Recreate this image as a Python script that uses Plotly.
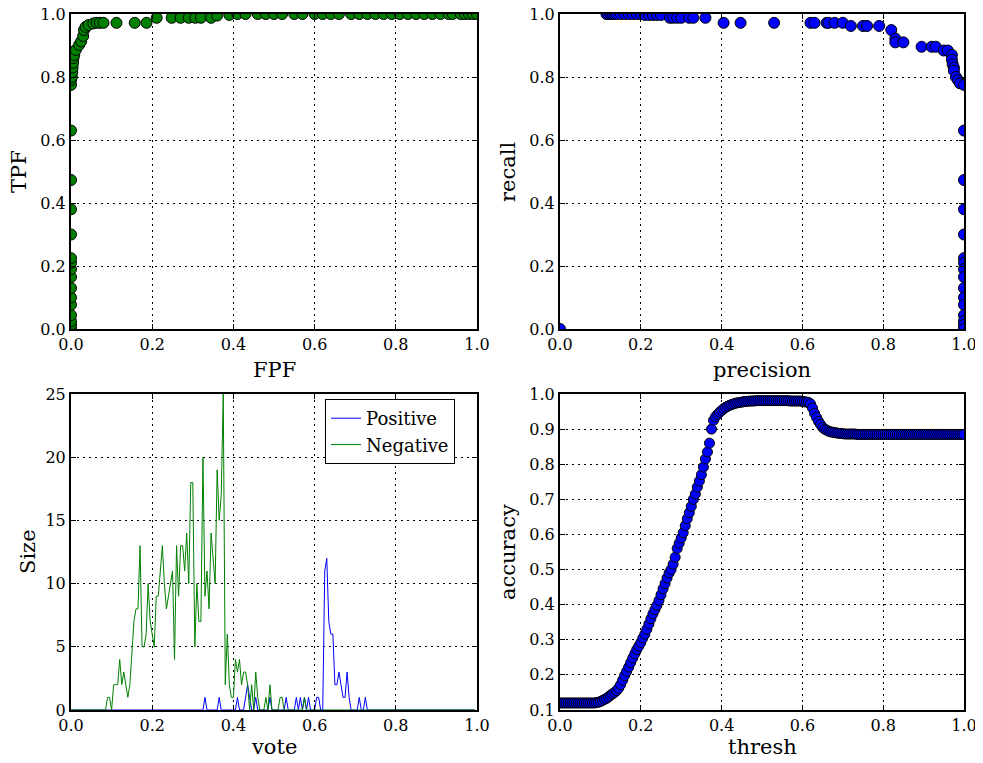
import plotly.graph_objects as go

# ---------------- data ----------------
# ROC curve (top-left)
fpf = [0, 0, 0, 0, 0, 0, 0, 0, 0, 0, 0, 0, 0, 0, 0, 0, 0,
       0.002, 0.003, 0.004, 0.005, 0.006, 0.008, 0.012, 0.02, 0.025, 0.03, 0.032,
       0.036, 0.043, 0.055, 0.063, 0.071, 0.08, 0.112, 0.157, 0.186,
       0.211, 0.248, 0.27, 0.29, 0.306, 0.32, 0.345, 0.36, 0.39,
       0.41, 0.43, 0.46, 0.48, 0.5, 0.52, 0.55, 0.57, 0.6, 0.62, 0.64, 0.66,
       0.69, 0.71, 0.73, 0.75, 0.77, 0.79, 0.81, 0.83, 0.85, 0.87, 0.89, 0.91,
       0.93, 0.94, 0.96, 0.97, 0.98, 0.99, 1.0]
tpf = [0.0, 0.013, 0.025, 0.044, 0.077, 0.1, 0.13, 0.165, 0.19, 0.21, 0.225,
       0.3, 0.38, 0.473, 0.63, 0.775, 0.79,
       0.8, 0.815, 0.83, 0.845, 0.86, 0.87, 0.886, 0.902, 0.913, 0.93, 0.949,
       0.959, 0.965, 0.97, 0.972, 0.972, 0.972, 0.972, 0.972, 0.972,
       0.988, 0.988, 0.988, 0.988, 0.988, 0.988, 0.988, 0.995, 0.997,
       1.0, 1.0, 1.0, 1.0, 1.0, 1.0, 1.0, 1.0, 1.0, 1.0, 1.0, 1.0,
       1.0, 1.0, 1.0, 1.0, 1.0, 1.0, 1.0, 1.0, 1.0, 1.0, 1.0, 1.0,
       1.0, 1.0, 1.0, 1.0, 1.0, 1.0, 1.0]

# Precision / recall (top-right)
precision = [0.0,
             0.115, 0.12, 0.125, 0.13, 0.135, 0.14, 0.15, 0.16, 0.17, 0.18, 0.19, 0.2,
             0.21, 0.22, 0.23, 0.24, 0.25,
             0.272, 0.28, 0.29, 0.30, 0.32, 0.33, 0.36,
             0.405, 0.447, 0.53, 0.62, 0.63, 0.66, 0.665, 0.68, 0.70,
             0.72, 0.75, 0.76, 0.79,
             0.82, 0.83, 0.83, 0.85, 0.895, 0.92, 0.93, 0.95, 0.96,
             0.97, 0.97, 0.972, 0.975, 0.975, 0.98, 0.985, 0.99,
             1.0, 1.0, 1.0, 1.0, 1.0, 1.0, 1.0, 1.0, 1.0, 1.0, 1.0, 1.0, 1.0, 1.0, 1.0, 1.0]
recall = [0.0,
          1.0, 1.0, 1.0, 1.0, 1.0, 1.0, 1.0, 1.0, 1.0, 1.0, 1.0, 1.0,
          0.997, 0.997, 0.997, 0.997, 0.997,
          0.988, 0.988, 0.988, 0.988, 0.988, 0.988, 0.988,
          0.972, 0.972, 0.972, 0.972, 0.972, 0.972, 0.972, 0.972, 0.972,
          0.962, 0.962, 0.962, 0.962,
          0.949, 0.922, 0.91, 0.91, 0.896, 0.896, 0.896, 0.884, 0.884,
          0.87, 0.855, 0.84, 0.83, 0.82, 0.80, 0.79, 0.78,
          0.775, 0.63, 0.473, 0.38, 0.3, 0.225, 0.21, 0.19, 0.165, 0.13, 0.1,
          0.077, 0.044, 0.025, 0.013, 0.0]

# Vote histograms (bottom-left), bins of width 0.005
bin_width = 0.005
negative_counts = [
    0, 0, 0, 0, 0, 0, 0, 0, 0, 0, 0, 0, 0, 0, 0, 0, 0, 0, 1, 1,
    0, 2, 2, 2, 4, 2, 3, 2, 1, 2, 5, 7, 8, 8, 13, 5, 5, 6, 10, 7,
    6, 5, 9, 9, 11, 13, 10, 8, 9, 10, 11, 4, 13, 9, 13, 13, 11, 14, 10, 18,
    18, 5, 10, 7, 7, 20, 9, 11, 8, 14, 12, 10, 19, 15, 17, 25, 2, 6, 2, 1,
    1, 4, 3, 4, 2, 3, 3, 2, 0, 2, 0, 3, 1, 0, 0, 0, 1, 0, 2, 0,
    0, 0, 0, 1, 1, 0, 0, 0, 0, 0, 0, 0, 0, 0, 0, 1, 0, 0, 0, 0,
] + [0] * 80
positive_counts = [
    0, 0, 0, 0, 0, 0, 0, 0, 0, 0, 0, 0, 0, 0, 0, 0, 0, 0, 0, 0,
    0, 0, 0, 0, 0, 0, 0, 0, 0, 0, 0, 0, 0, 0, 0, 0, 0, 0, 0, 0,
    0, 0, 0, 0, 0, 0, 0, 0, 0, 0, 0, 0, 0, 0, 0, 0, 0, 0, 0, 0,
    0, 0, 0, 0, 0, 0, 1, 0, 0, 0, 0, 0, 0, 1, 0, 0, 0, 0, 0, 0,
    0, 0, 1, 0, 0, 0, 1, 2, 1, 0, 0, 1, 0, 0, 0, 0, 0, 0, 1, 0,
    0, 0, 0, 0, 0, 0, 1, 0, 0, 0, 0, 1, 0, 1, 0, 1, 0, 1, 0, 0,
    0, 1, 1, 0, 0, 11, 12, 7, 6, 6, 2, 2, 3, 2, 1, 1, 3, 1, 0, 0,
    0, 0, 1, 0, 0, 1, 0, 0, 0, 0,
] + [0] * 50
vote = [round(i * bin_width, 3) for i in range(200)]

# Accuracy vs threshold (bottom-right)
accuracy = [
    0.12, 0.12, 0.12, 0.12, 0.12, 0.12, 0.12, 0.12, 0.12, 0.12,
    0.12, 0.12, 0.12, 0.12, 0.12, 0.12, 0.12, 0.12, 0.121, 0.122,
    0.124, 0.127, 0.13, 0.133, 0.137, 0.142, 0.146, 0.15, 0.155, 0.162,
    0.172, 0.185, 0.198, 0.21, 0.222, 0.235, 0.248, 0.26, 0.272, 0.282,
    0.292, 0.305, 0.316, 0.33, 0.345, 0.36, 0.374, 0.386, 0.398, 0.412,
    0.428, 0.445, 0.46, 0.476, 0.49, 0.5, 0.515, 0.535, 0.56, 0.575,
    0.59, 0.605, 0.625, 0.645, 0.662, 0.68, 0.7, 0.715, 0.735, 0.752,
    0.77, 0.792, 0.815, 0.835, 0.86, 0.9, 0.925, 0.935, 0.942, 0.948,
    0.953, 0.958, 0.962, 0.965, 0.968, 0.97, 0.972, 0.974, 0.975, 0.976,
    0.977, 0.978, 0.979, 0.979, 0.98, 0.98, 0.98, 0.981, 0.981, 0.981,
    0.981, 0.981, 0.981, 0.981, 0.981, 0.981, 0.981, 0.981, 0.981, 0.981,
    0.981, 0.981, 0.981, 0.981, 0.98, 0.98, 0.98, 0.98, 0.98, 0.98,
    0.979, 0.978, 0.977, 0.976, 0.972, 0.96, 0.945, 0.933, 0.922, 0.913,
    0.905, 0.9, 0.897, 0.894, 0.892, 0.891, 0.89, 0.889, 0.888, 0.888,
    0.887, 0.886, 0.886, 0.886, 0.886, 0.886, 0.886, 0.885, 0.885, 0.885,
    0.885, 0.885, 0.885, 0.885, 0.885, 0.885, 0.885, 0.885, 0.885, 0.885,
    0.885, 0.885, 0.885, 0.885, 0.885, 0.885, 0.885, 0.885, 0.885, 0.885,
    0.885, 0.885, 0.885, 0.885, 0.885, 0.885, 0.885, 0.885, 0.885, 0.885,
    0.885, 0.885, 0.885, 0.885, 0.885, 0.885, 0.885, 0.885, 0.885, 0.885,
    0.885, 0.885, 0.885, 0.885, 0.885, 0.885, 0.885, 0.885, 0.885, 0.885,
    0.885,
]
thresh = [round(i * 0.005, 3) for i in range(len(accuracy))]

# ---------------- figure ----------------
W, H = 983, 763
FONT = "DejaVu Serif"
OFF = 8  # page body margin of the html document

def px_x(p):
    return (p - OFF) / W

def px_y(p):
    return 1 - (p - OFF) / H

dom_x_left = [px_x(71), px_x(477)]
dom_x_right = [px_x(560), px_x(964)]
dom_y_top = [px_y(329), px_y(14)]
dom_y_bot = [px_y(710), px_y(394)]

fig = go.Figure()

mk = dict(line=dict(color="black", width=1))
fig.add_trace(go.Scatter(x=fpf, y=tpf, mode="markers", xaxis="x", yaxis="y",
                         marker=dict(color="#008000", size=11, **mk), showlegend=False))
fig.add_trace(go.Scatter(x=precision, y=recall, mode="markers", xaxis="x2", yaxis="y2",
                         marker=dict(color="#0000ff", size=11, **mk), showlegend=False))
fig.add_trace(go.Scatter(x=vote, y=positive_counts, mode="lines", xaxis="x3", yaxis="y3",
                         line=dict(color="#0000ff", width=1), name="Positive"))
fig.add_trace(go.Scatter(x=vote, y=negative_counts, mode="lines", xaxis="x3", yaxis="y3",
                         line=dict(color="#008000", width=1), name="Negative"))
fig.add_trace(go.Scatter(x=thresh, y=accuracy, mode="markers", xaxis="x4", yaxis="y4",
                         marker=dict(color="#0000ff", size=10, **mk), showlegend=False))

def ax(domain, anchor, rng, dtick, fmt, tick0=0):
    return dict(domain=domain, anchor=anchor, range=rng, dtick=dtick, tick0=tick0,
                tickformat=fmt, showline=True, linecolor="black", linewidth=2,
                mirror="ticks", ticks="inside", ticklen=5, tickcolor="black",
                tickwidth=1, showgrid=True, gridcolor="black", gridwidth=1,
                griddash="2px,4px", zeroline=False, automargin=False,
                ticklabeloverflow="allow",
                tickfont=dict(family=FONT, size=16, color="black"))

fig.update_layout(
    template="none",
    width=W, height=H,
    margin=dict(l=0, r=0, t=0, b=0, pad=0),
    paper_bgcolor="white", plot_bgcolor="white",
    font=dict(family=FONT, color="black"),
    xaxis=ax(dom_x_left, "y", [0, 1], 0.2, ".1f"),
    yaxis=ax(dom_y_top, "x", [0, 1], 0.2, ".1f"),
    xaxis2=ax(dom_x_right, "y2", [0, 1], 0.2, ".1f"),
    yaxis2=ax(dom_y_top, "x2", [0, 1], 0.2, ".1f"),
    xaxis3=ax(dom_x_left, "y3", [0, 1], 0.2, ".1f"),
    yaxis3=ax(dom_y_bot, "x3", [0, 25], 5, "d"),
    xaxis4=ax(dom_x_right, "y4", [0, 1], 0.2, ".1f"),
    yaxis4=ax(dom_y_bot, "x4", [0.1, 1.0], 0.1, ".1f", tick0=0.1),
    legend=dict(x=px_x(325), y=px_y(399), xanchor="left", yanchor="top",
                bordercolor="black", borderwidth=1, bgcolor="white",
                font=dict(family=FONT, size=18, color="black"),
                itemwidth=30, tracegroupgap=0),
)

titles = [
    ("FPF", 274, 370, 0), ("precision", 762, 370, 0),
    ("vote", 274, 747, 0), ("thresh", 762, 747, 0),
    ("TPF", 19, 172, -90), ("recall", 508, 172, -90),
    ("Size", 28, 552, -90), ("accuracy", 508, 552, -90),
]
for text, cx, cy, ang in titles:
    fig.add_annotation(text=text, x=px_x(cx), y=px_y(cy), xref="paper", yref="paper",
                       xanchor="center", yanchor="middle", showarrow=False,
                       textangle=ang, font=dict(family=FONT, size=21, color="black"))

fig.write_html("out.html")
